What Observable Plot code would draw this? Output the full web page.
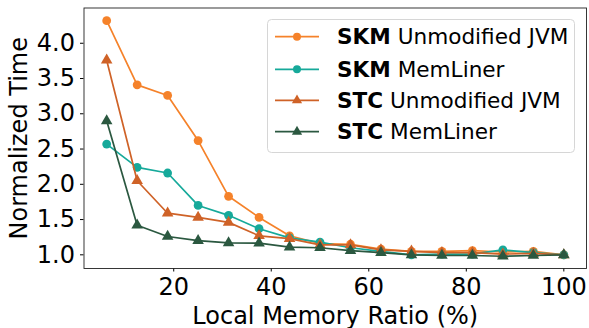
<!DOCTYPE html>
<html>
<head>
<meta charset="utf-8">
<script src="https://cdn.jsdelivr.net/npm/d3@7"></script>
<script src="https://cdn.jsdelivr.net/npm/@observablehq/plot@0.6"></script>
<style>
  html, body { margin: 0; padding: 0; background: #fff; }
  #wrap { position: relative; width: 589px; height: 328px; font-family: "DejaVu Sans", sans-serif; }
  #legend { position: absolute; left: 0; top: 0; pointer-events: none; }
</style>
</head>
<body>
<div id="wrap"></div>
<script>
const ratio = [6.25, 12.5, 18.75, 25, 31.25, 37.5, 43.75, 50, 56.25, 62.5, 68.75, 75, 81.25, 87.5, 93.75, 100];
const skmUnmodified = [4.32, 3.41, 3.26, 2.62, 1.83, 1.53, 1.27, 1.16, 1.15, 1.08, 1.05, 1.05, 1.06, 1.04, 1.05, 1.00];
const skmMemLiner   = [2.57, 2.24, 2.16, 1.70, 1.56, 1.37, 1.24, 1.18, 1.10, 1.05, 1.00, 1.01, 1.01, 1.07, 1.03, 1.00];
const stcUnmodified = [3.76, 2.05, 1.59, 1.53, 1.46, 1.27, 1.23, 1.14, 1.14, 1.07, 1.05, 1.03, 1.03, 1.01, 1.02, 1.00];
const stcMemLiner   = [2.90, 1.42, 1.26, 1.20, 1.17, 1.165, 1.11, 1.10, 1.06, 1.03, 1.00, 0.99, 0.99, 0.98, 0.99, 1.00];

const series = [
  {bold: "SKM", rest: " Unmodified JVM", values: skmUnmodified, color: "#f5822a", symbol: "circle"},
  {bold: "SKM", rest: " MemLiner", values: skmMemLiner, color: "#16a99a", symbol: "circle"},
  {bold: "STC", rest: " Unmodified JVM", values: stcUnmodified, color: "#cf6227", symbol: "triangle"},
  {bold: "STC", rest: " MemLiner", values: stcMemLiner, color: "#2b5840", symbol: "triangle"}
];
const xTicks = [20, 40, 60, 80, 100];
const yTicks = [1.0, 1.5, 2.0, 2.5, 3.0, 3.5, 4.0];

const rows = series.map(s => ratio.map((x, i) => ({x, y: s.values[i], key: s.bold + s.rest})));

const R_CIRCLE = 4.4, R_TRI = 4.3;
const marks = [];
series.forEach((s, k) => {
  marks.push(Plot.line(rows[k], {x: "x", y: "y", stroke: s.color, strokeWidth: 1.7}));
  marks.push(Plot.dot(rows[k], {x: "x", y: "y", fill: s.color, r: s.symbol === "circle" ? R_CIRCLE : R_TRI, symbol: s.symbol, stroke: "none"}));
});

const chart = Plot.plot({
  width: 589,
  height: 328,
  marginLeft: 83.5,
  marginRight: 3,
  marginTop: 7.5,
  marginBottom: 60,
  style: {fontFamily: "DejaVu Sans, sans-serif", background: "#fff", color: "#000"},
  x: {domain: [1.6, 104.65], label: null},
  y: {domain: [0.806, 4.5], label: null},
  marks: [
    Plot.axisX({ticks: xTicks, tickSize: 3.5, tickPadding: 5.5, fontSize: 24, label: null, tickFormat: d => String(d)}),
    Plot.axisY({ticks: yTicks, tickSize: 3.5, tickPadding: 5.5, fontSize: 24, label: null, tickFormat: d3.format(".1f")}),
    ...marks,
    Plot.frame({stroke: "#222", strokeWidth: 0.9}),
    Plot.text(["Local Memory Ratio (%)"], {frameAnchor: "bottom", dy: 55, fontSize: 24, text: d => d, lineAnchor: "bottom"}),
    Plot.text(["Normalized Time"], {frameAnchor: "left", dx: -64.5, rotate: -90, textAnchor: "middle", lineAnchor: "middle", fontSize: 24, text: d => d})
  ]
});
document.getElementById("wrap").appendChild(chart);

// Legend overlay
const lg = d3.select("#wrap").append("svg").attr("id", "legend").attr("width", 589).attr("height", 328);
lg.append("rect").attr("x", 267.5).attr("y", 19.5).attr("width", 307).attr("height", 133).attr("rx", 4)
  .attr("fill", "rgba(255,255,255,0.8)").attr("stroke", "#d6d6d6").attr("stroke-width", 1);
const rowY = [36.7, 69.3, 100.3, 131.7];
series.forEach((s, k) => {
  const g = lg.append("g").attr("transform", `translate(0,${rowY[k]})`);
  g.append("line").attr("x1", 275).attr("x2", 319).attr("y1", 0).attr("y2", 0).attr("stroke", s.color).attr("stroke-width", 1.7);
  const sym = s.symbol === "circle" ? d3.symbolCircle : d3.symbolTriangle;
  const r = s.symbol === "circle" ? 4.0 : 3.8;
  g.append("path").attr("transform", "translate(297,0)").attr("d", d3.symbol(sym, Math.PI * r * r)()).attr("fill", s.color);
  const t = g.append("text").attr("x", 337).attr("y", 0).attr("dy", "0.36em")
    .attr("font-family", "DejaVu Sans, sans-serif").attr("font-size", 21.6).attr("fill", "#000");
  t.append("tspan").attr("font-weight", "bold").text(s.bold);
  t.append("tspan").text(s.rest);
});
</script>
</body>
</html>
